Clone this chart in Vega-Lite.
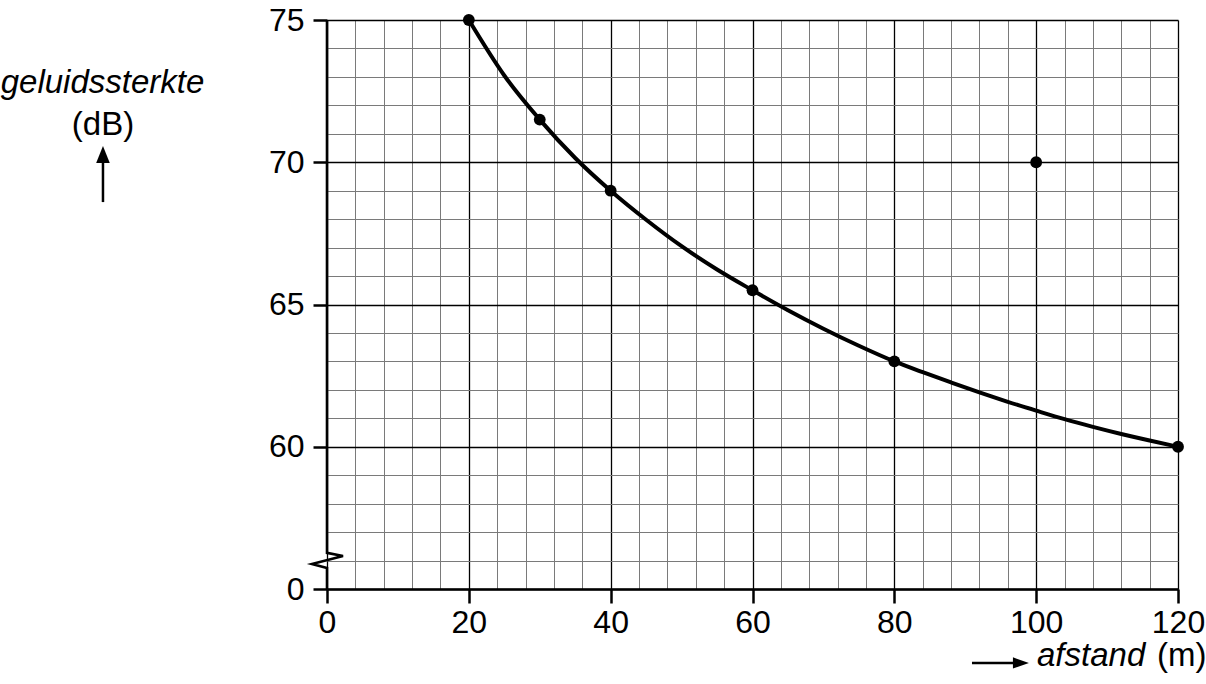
{
  "$schema": "https://vega.github.io/schema/vega-lite/v6.json",
  "width": 851,
  "height": 569,
  "autosize": {"type": "none"},
  "padding": {"left": 327, "top": 20, "right": 28, "bottom": 95},
  "background": "white",
  "config": {"view": {"stroke": null}, "font": "Liberation Sans"},
  "datasets": {
    "meetpunten": [
      {"afstand": 20, "dB": 75},
      {"afstand": 30, "dB": 71.5},
      {"afstand": 40, "dB": 69},
      {"afstand": 60, "dB": 65.5},
      {"afstand": 80, "dB": 63},
      {"afstand": 100, "dB": 70},
      {"afstand": 120, "dB": 60}
    ],
    "kromme": [
      {"afstand": 20, "dB": 75},
      {"afstand": 25, "dB": 73.05},
      {"afstand": 30, "dB": 71.5},
      {"afstand": 35, "dB": 70.15},
      {"afstand": 40, "dB": 69},
      {"afstand": 45, "dB": 67.98},
      {"afstand": 50, "dB": 67.05},
      {"afstand": 55, "dB": 66.23},
      {"afstand": 60, "dB": 65.5},
      {"afstand": 65, "dB": 64.8},
      {"afstand": 70, "dB": 64.15},
      {"afstand": 75, "dB": 63.55},
      {"afstand": 80, "dB": 63},
      {"afstand": 84, "dB": 62.62},
      {"afstand": 88, "dB": 62.26},
      {"afstand": 92, "dB": 61.91},
      {"afstand": 96, "dB": 61.58},
      {"afstand": 100, "dB": 61.27},
      {"afstand": 104, "dB": 60.97},
      {"afstand": 108, "dB": 60.7},
      {"afstand": 112, "dB": 60.45},
      {"afstand": 116, "dB": 60.22},
      {"afstand": 120, "dB": 60}
    ],
    "asbreuk": [
      {"i": 0, "afstand": 0, "dB": 75},
      {"i": 1, "afstand": 0, "dB": 56.27},
      {"i": 2, "afstand": 2.26, "dB": 56.16},
      {"i": 3, "afstand": -2.12, "dB": 55.88},
      {"i": 4, "afstand": 0, "dB": 55.74},
      {"i": 5, "afstand": 0, "dB": 55}
    ],
    "leeg": [{}]
  },
  "layer": [
    {
      "data": {"name": "kromme"},
      "mark": {"type": "line", "color": "#000", "strokeWidth": 4, "interpolate": "monotone"},
      "encoding": {
        "x": {
          "field": "afstand", "type": "quantitative",
          "scale": {"domain": [0, 120], "nice": false, "zero": false},
          "axis": {
            "title": null,
            "values": [0,4,8,12,16,20,24,28,32,36,40,44,48,52,56,60,64,68,72,76,80,84,88,92,96,100,104,108,112,116,120],
            "tickCount": 200,
            "format": "d",
            "grid": true,
            "gridColor": {"condition": {"test": "datum.value % 20 === 0", "value": "#000"}, "value": "#7a7a7a"},
            "gridWidth": {"condition": {"test": "datum.value % 20 === 0", "value": 1.3}, "value": 1},
            "gridOpacity": 1,
            "labelExpr": "datum.value % 20 === 0 ? datum.label : ''",
            "labelFlush": false,
            "labelOverlap": false,
            "labelFont": "Liberation Sans",
            "labelFontSize": 32,
            "labelColor": "#000",
            "labelPadding": 4,
            "tickColor": "#000",
            "tickWidth": 2.5,
            "tickSize": 14,
            "tickOpacity": {"condition": {"test": "datum.value % 20 === 0", "value": 1}, "value": 0},
            "domainColor": "#000",
            "domainWidth": 2.5
          }
        },
        "y": {
          "field": "dB", "type": "quantitative",
          "scale": {"domain": [55, 75], "nice": false, "zero": false},
          "axis": {
            "title": null,
            "values": [55,56,57,58,59,60,61,62,63,64,65,66,67,68,69,70,71,72,73,74,75],
            "tickCount": 200,
            "format": "d",
            "grid": true,
            "gridColor": {"condition": {"test": "datum.value % 5 === 0", "value": "#000"}, "value": "#7a7a7a"},
            "gridWidth": {"condition": {"test": "datum.value % 5 === 0", "value": 1.3}, "value": 1},
            "gridOpacity": 1,
            "labelExpr": "datum.value === 55 ? '0' : (datum.value % 5 === 0 ? datum.label : '')",
            "labelFlush": false,
            "labelOverlap": false,
            "labelFont": "Liberation Sans",
            "labelFontSize": 32,
            "labelColor": "#000",
            "labelPadding": 9,
            "tickColor": "#000",
            "tickWidth": 2.5,
            "tickSize": 14,
            "tickOpacity": {"condition": {"test": "datum.value % 5 === 0", "value": 1}, "value": 0},
            "domain": false
          }
        }
      }
    },
    {
      "data": {"name": "asbreuk"},
      "mark": {"type": "line", "color": "#000", "strokeWidth": 2.6, "strokeJoin": "miter"},
      "encoding": {
        "x": {"field": "afstand", "type": "quantitative"},
        "y": {"field": "dB", "type": "quantitative"},
        "order": {"field": "i", "type": "quantitative"}
      }
    },
    {
      "data": {"name": "meetpunten"},
      "mark": {"type": "point", "filled": true, "color": "#000", "opacity": 1, "size": 140},
      "encoding": {
        "x": {"field": "afstand", "type": "quantitative"},
        "y": {"field": "dB", "type": "quantitative"}
      }
    },
    {
      "data": {"name": "leeg"},
      "mark": {"type": "text", "text": "geluidssterkte", "font": "Liberation Sans", "fontStyle": "italic", "fontSize": 33, "align": "center", "baseline": "alphabetic", "color": "#000"},
      "encoding": {"x": {"datum": -31.66, "type": "quantitative"}, "y": {"datum": 72.43, "type": "quantitative"}}
    },
    {
      "data": {"name": "leeg"},
      "mark": {"type": "text", "text": "(dB)", "font": "Liberation Sans", "fontSize": 33, "align": "center", "baseline": "alphabetic", "color": "#000"},
      "encoding": {"x": {"datum": -31.59, "type": "quantitative"}, "y": {"datum": 70.95, "type": "quantitative"}}
    },
    {
      "data": {"name": "leeg"},
      "mark": {"type": "rule", "color": "#000", "strokeWidth": 2.5},
      "encoding": {"x": {"datum": -31.59, "type": "quantitative"}, "y": {"datum": 68.6, "type": "quantitative"}, "y2": {"datum": 70.13}}
    },
    {
      "data": {"name": "leeg"},
      "mark": {"type": "point", "shape": "M0,-1L0.8,1L-0.8,1Z", "filled": true, "color": "#000", "opacity": 1, "size": 289},
      "encoding": {"x": {"datum": -31.59, "type": "quantitative"}, "y": {"datum": 70.27, "type": "quantitative"}}
    },
    {
      "data": {"name": "leeg"},
      "mark": {"type": "rule", "color": "#000", "strokeWidth": 2.5},
      "encoding": {"x": {"datum": 90.95, "type": "quantitative"}, "x2": {"datum": 96.87}, "y": {"datum": 52.4, "type": "quantitative"}}
    },
    {
      "data": {"name": "leeg"},
      "mark": {"type": "point", "shape": "M1,0L-1,-0.7L-1,0.7Z", "filled": true, "color": "#000", "opacity": 1, "size": 256},
      "encoding": {"x": {"datum": 97.85, "type": "quantitative"}, "y": {"datum": 52.4, "type": "quantitative"}}
    },
    {
      "data": {"name": "leeg"},
      "mark": {"type": "text", "text": "afstand", "font": "Liberation Sans", "fontStyle": "italic", "fontSize": 33, "align": "left", "baseline": "alphabetic", "color": "#000"},
      "encoding": {"x": {"datum": 100.12, "type": "quantitative"}, "y": {"datum": 52.3, "type": "quantitative"}}
    },
    {
      "data": {"name": "leeg"},
      "mark": {"type": "text", "text": "(m)", "font": "Liberation Sans", "fontSize": 33, "align": "left", "baseline": "alphabetic", "color": "#000"},
      "encoding": {"x": {"datum": 117.04, "type": "quantitative"}, "y": {"datum": 52.3, "type": "quantitative"}}
    }
  ]
}
